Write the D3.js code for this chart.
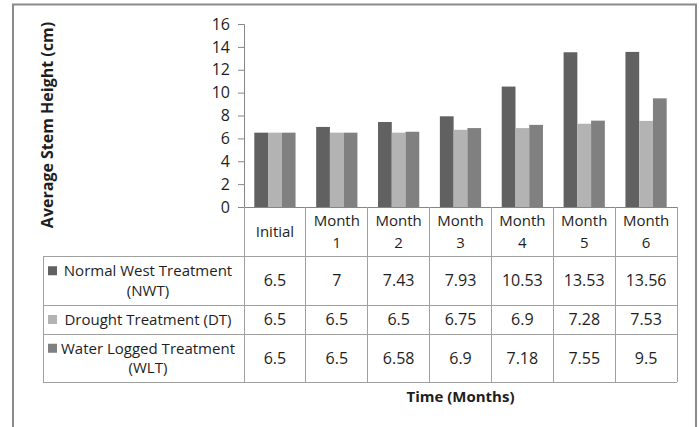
<!DOCTYPE html>
<html>
<head>
<meta charset="utf-8">
<script src="https://cdn.jsdelivr.net/npm/d3@7"></script>
<style>
  html, body { margin: 0; padding: 0; background: #fff; }
  svg { display: block; }
  text { font-family: "Open Sans", Lato, sans-serif; fill: #1e1e1e; }
</style>
</head>
<body>
<svg id="chart" width="699" height="427"></svg>
<script>
// ---- data ----
const categories = ["Initial", "Month 1", "Month 2", "Month 3", "Month 4", "Month 5", "Month 6"];
const headerLines = [["Initial"], ["Month", "1"], ["Month", "2"], ["Month", "3"], ["Month", "4"], ["Month", "5"], ["Month", "6"]];
const seriesNames = ["Normal West Treatment (NWT)", "Drought Treatment (DT)", "Water Logged Treatment (WLT)"];
const seriesLabelLines = [["Normal West Treatment", "(NWT)"], ["Drought Treatment (DT)"], ["Water Logged Treatment", "(WLT)"]];
const nwt = [6.5, 7, 7.43, 7.93, 10.53, 13.53, 13.56];
const dt = [6.5, 6.5, 6.5, 6.75, 6.9, 7.28, 7.53];
const wlt = [6.5, 6.5, 6.58, 6.9, 7.18, 7.55, 9.5];
const yTicks = [0, 2, 4, 6, 8, 10, 12, 14, 16];
const seriesColors = ["#616161", "#b3b3b3", "#808080"];
const yTitle = "Average Stem Height (cm)";
const xTitle = "Time (Months)";

const seriesValues = [nwt, dt, wlt];
const tableValueText = [
  ["6.5", "7", "7.43", "7.93", "10.53", "13.53", "13.56"],
  ["6.5", "6.5", "6.5", "6.75", "6.9", "7.28", "7.53"],
  ["6.5", "6.5", "6.58", "6.9", "7.18", "7.55", "9.5"]
];

// ---- layout ----
const svg = d3.select("#chart");
const plotLeft = 244, plotRight = 677, plotTop = 24, plotBottom = 207;
const tableLeft = 43;
const rowEdges = [207, 256, 305, 334, 382];
const lineColor = "#a0a0a0";
const axisColor = "#868686";

// outer frame
svg.append("rect")
  .attr("x", 13).attr("y", 4.5).attr("width", 683).attr("height", 440)
  .attr("fill", "none").attr("stroke", "#8a8a8a").attr("stroke-width", 2);

const x = d3.scaleBand().domain(categories).range([plotLeft, plotRight]).padding(0);
const bw = x.bandwidth();
const barW = bw / 4.5;
const xs = d3.scaleBand().domain(seriesNames)
  .range([bw * 0.75 / 4.5, bw * 0.75 / 4.5 + 3 * barW]).padding(0);
const y = d3.scaleLinear().domain([0, 16]).range([plotBottom, plotTop]);

// y axis
const yAxis = d3.axisLeft(y).tickValues(yTicks).tickSize(6).tickPadding(8).tickFormat(d3.format("d"));
const gy = svg.append("g").attr("transform", `translate(${plotLeft},0)`).call(yAxis);
gy.select(".domain").attr("stroke", axisColor);
gy.selectAll(".tick line").attr("stroke", axisColor);
gy.selectAll(".tick text").style("font-size", "16px").style("font-family", "'Open Sans', sans-serif").attr("fill", "#1e1e1e");

// bars
const groups = svg.append("g").selectAll("g")
  .data(categories).join("g")
  .attr("transform", d => `translate(${x(d)},0)`);
groups.selectAll("rect")
  .data((c, i) => seriesNames.map((s, k) => ({ s, k, v: seriesValues[k][i] })))
  .join("rect")
  .attr("x", d => xs(d.s))
  .attr("y", d => y(d.v))
  .attr("width", xs.bandwidth())
  .attr("height", d => y(0) - y(d.v))
  .attr("fill", d => seriesColors[d.k]);

// data table lines
const tl = svg.append("g").attr("stroke", lineColor).attr("stroke-width", 1).attr("shape-rendering", "crispEdges");
tl.append("line").attr("x1", plotLeft).attr("x2", plotRight).attr("y1", rowEdges[0]).attr("y2", rowEdges[0]).attr("stroke", axisColor);
rowEdges.slice(1).forEach(ry => {
  tl.append("line").attr("x1", tableLeft).attr("x2", plotRight).attr("y1", ry).attr("y2", ry);
});
const vx = categories.map(c => x(c)).concat([plotRight]);
vx.forEach(v => {
  tl.append("line").attr("x1", v).attr("x2", v).attr("y1", rowEdges[0]).attr("y2", rowEdges[4]);
});
tl.append("line").attr("x1", tableLeft).attr("x2", tableLeft).attr("y1", rowEdges[1]).attr("y2", rowEdges[4]);

// header text
const fsText = 15;
const fsNum = 16;
categories.forEach((c, i) => {
  const lines = headerLines[i];
  const cx = x(c) + bw / 2;
  const cy = (rowEdges[0] + rowEdges[1]) / 2;
  const lh = 21.5;
  lines.forEach((ln, j) => {
    svg.append("text")
      .attr("x", cx)
      .attr("y", cy + (j - (lines.length - 1) / 2) * lh)
      .attr("dy", "0.36em")
      .attr("text-anchor", "middle")
      .style("font-size", fsText + "px")
      .text(ln);
  });
});

// values + legend labels
seriesNames.forEach((s, k) => {
  const cy = (rowEdges[k + 1] + rowEdges[k + 2]) / 2;
  categories.forEach((c, i) => {
    svg.append("text")
      .attr("x", x(c) + bw / 2)
      .attr("y", cy)
      .attr("dy", "0.36em")
      .attr("text-anchor", "middle")
      .style("font-size", fsNum + "px")
      .text(tableValueText[k][i]);
  });
  const lines = seriesLabelLines[k];
  const lh = 19.5;
  const firstY = cy - (lines.length - 1) / 2 * lh;
  svg.append("rect")
    .attr("x", 48).attr("y", firstY - 4.5).attr("width", 9).attr("height", 9)
    .attr("fill", seriesColors[k]);
  lines.forEach((ln, j) => {
    svg.append("text")
      .attr("x", 148)
      .attr("y", firstY + j * lh)
      .attr("dy", "0.36em")
      .attr("text-anchor", "middle")
      .style("font-size", fsText + "px")
      .text(ln);
  });
});

// axis titles
svg.append("text")
  .attr("transform", `translate(47,125) rotate(-90)`)
  .attr("text-anchor", "middle")
  .attr("dy", "0.36em")
  .style("font-size", "16px").style("font-weight", "bold")
  .text(yTitle);
svg.append("text")
  .attr("x", (plotLeft + plotRight) / 2)
  .attr("y", 397)
  .attr("dy", "0.36em")
  .attr("text-anchor", "middle")
  .style("font-size", "15px").style("font-weight", "bold")
  .text(xTitle);
</script>
</body>
</html>
